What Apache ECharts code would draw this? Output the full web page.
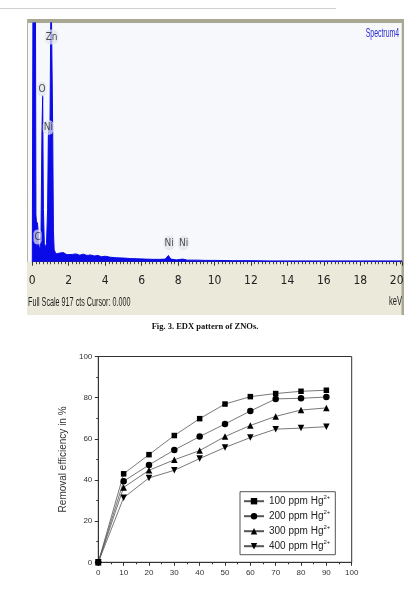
<!DOCTYPE html>
<html>
<head>
<meta charset="utf-8">
<script src="https://cdn.jsdelivr.net/npm/echarts@6/dist/echarts.min.js"></script>
<style>
html,body{margin:0;padding:0;background:#fff;}
#c{width:418px;height:590px;}
</style>
</head>
<body>
<div id="c"></div>
<script>
// ---- EDX spectrum (top figure) ----
const edxKeV = [0, 0.03, 0.05, 0.1, 0.17, 0.2, 0.24, 0.28, 0.32, 0.36, 0.42, 0.48, 0.53, 0.57, 0.61, 0.66, 0.72, 0.78, 0.84, 0.88, 0.92, 0.95, 0.99, 1.03, 1.08, 1.12, 1.16, 1.2, 1.3, 1.4, 1.5, 1.6, 1.7, 1.8, 1.9, 2.0, 2.2, 2.4, 2.6, 2.8, 3.0, 3.2, 3.4, 3.6, 3.8, 4.0, 4.3, 4.6, 5.0, 5.4, 5.8, 6.2, 6.6, 7.0, 7.3, 7.47, 7.6, 7.9, 8.26, 8.5, 9, 9.5, 10, 11, 12, 13, 14, 15, 16, 17, 18, 19, 20, 20.3];
const edxCounts = [0, 0, 1400, 1400, 1100, 180, 140, 150, 120, 60, 45, 120, 500, 640, 200, 70, 55, 70, 200, 480, 520, 350, 700, 1100, 1100, 500, 120, 45, 30, 26, 33, 28, 35, 30, 27, 32, 28, 30, 25, 29, 24, 26, 22, 24, 19, 21, 17, 15, 14, 12, 11, 10, 9, 9, 10, 24, 10, 7, 10, 6, 6, 5, 5, 4, 4, 3, 3, 3, 3, 3, 3, 3, 3, 3];
const edxPeakNames = ['Zn', 'O', 'Ni', 'C', 'Ni', 'Ni'];
const edxPeakKeV = [1.06, 0.53, 0.88, 0.29, 7.51, 8.3];
const edxPeakLabelCts = [863, 663, 516, 95, 72, 72];
const edxTicks = [0, 2, 4, 6, 8, 10, 12, 14, 16, 18, 20];
const edxFullScale = 917;

// ---- Removal efficiency (bottom figure) ----
const times = [0, 10, 20, 30, 40, 50, 60, 70, 80, 90];
const seriesNames = ['100 ppm Hg', '200 ppm Hg', '300 ppm Hg', '400 ppm Hg'];
const eff100 = [0, 43.0, 52.3, 61.6, 69.8, 76.9, 80.5, 82.0, 83.1, 83.6];
const eff200 = [0, 39.4, 47.3, 54.6, 61.1, 67.2, 73.5, 79.4, 79.7, 80.3];
const eff300 = [0, 36.4, 44.7, 49.8, 54.3, 61.1, 66.5, 70.9, 74.0, 75.0];
const eff400 = [0, 31.4, 41.0, 44.7, 50.4, 55.8, 60.6, 64.7, 65.2, 65.9];
const xTicks = [0, 10, 20, 30, 40, 50, 60, 70, 80, 90, 100];
const yTicks = [0, 20, 40, 60, 80, 100];

const chart = echarts.init(document.getElementById('c'), null, {renderer: 'canvas'});
const narrow = "'Liberation Sans Narrow','DejaVu Sans Condensed','Liberation Sans',sans-serif";
const sans = "'Liberation Sans',Arial,sans-serif";
const symbols = ['rect', 'circle', 'triangle', 'path://M0,0 L10,0 L5,9 Z'];
const effData = [eff100, eff200, eff300, eff400];

const option = {
  animation: false,
  backgroundColor: '#ffffff',
  graphic: [
    {type: 'line', shape: {x1: 0, y1: 8.5, x2: 336, y2: 8.5}, style: {stroke: '#cfcfcf', lineWidth: 1}, z: 0},
    {type: 'rect', shape: {x: 27, y: 19, width: 377, height: 296}, style: {fill: '#ebe9d9'}, z: 0},
    {type: 'rect', shape: {x: 27, y: 19, width: 377, height: 4}, style: {fill: '#a9a895'}, z: 0},
    {type: 'rect', shape: {x: 401.5, y: 19, width: 2.5, height: 296}, style: {fill: '#a9a895'}, z: 0},
    {type: 'rect', shape: {x: 27, y: 19, width: 1, height: 243}, style: {fill: '#b5b4a4'}, z: 0},
    {type: 'rect', shape: {x: 28, y: 23, width: 373.5, height: 238.7}, style: {fill: '#f7f8fc'}, z: 0},
    {type: 'text', x: 365.7, y: 27.5, style: {text: 'Spectrum4', fill: '#2b2bd6', font: "12px " + sans}, scaleX: 0.575, z: 5},
    {type: 'text', x: 28, y: 297, style: {text: 'Full Scale ' + edxFullScale + ' cts Cursor: 0.000', fill: '#1e1e1e', font: "12px " + sans}, scaleX: 0.6, z: 5},
    {type: 'text', x: 389, y: 296, style: {text: 'keV', fill: '#1e1e1e', font: "12px " + sans}, scaleX: 0.63, z: 5},
    {type: 'text', x: 205, y: 322, style: {text: 'Fig. 3. EDX pattern of ZNOs.', fill: '#111', font: "bold 8.5px 'Liberation Serif','Times New Roman',serif", textAlign: 'center'}, z: 5}
  ],
  grid: [
    {left: 32.3, top: 23, width: 369.7, height: 238.7},
    {left: 98.3, top: 356.5, width: 253.4, height: 205.8, show: true, borderColor: '#333', borderWidth: 1, backgroundColor: 'transparent'}
  ],
  xAxis: [
    {
      type: 'value', gridIndex: 0, min: 0, max: 20.29, interval: 2,
      axisLine: {show: true, lineStyle: {color: '#333', width: 1}},
      axisTick: {show: true, length: 4, lineStyle: {color: '#333'}},
      minorTick: {show: true, splitNumber: 10, length: 2.5, lineStyle: {color: '#444'}},
      splitLine: {show: false},
      axisLabel: {
        margin: 13, fontSize: 12, color: '#222', fontFamily: narrow,
        formatter: v => (edxTicks.indexOf(Math.round(v * 1000) / 1000) >= 0 ? String(v) : '')
      }
    },
    {
      type: 'value', gridIndex: 1, min: 0, max: 100, interval: 10,
      axisLine: {show: true, lineStyle: {color: '#333', width: 1}},
      axisTick: {show: true, length: 3.5, lineStyle: {color: '#333'}},
      minorTick: {show: true, splitNumber: 2, length: 2, lineStyle: {color: '#333'}},
      splitLine: {show: false},
      axisLabel: {margin: 6, fontSize: 8, color: '#333', fontFamily: sans,
        formatter: v => (xTicks.indexOf(v) >= 0 ? String(v) : '')}
    }
  ],
  yAxis: [
    {type: 'value', gridIndex: 0, min: 0, max: edxFullScale, show: false},
    {
      type: 'value', gridIndex: 1, min: 0, max: 100, interval: 20,
      name: 'Removal efficiency in %', nameLocation: 'middle', nameGap: 22,
      nameTextStyle: {fontSize: 10, color: '#333', fontFamily: sans},
      axisLine: {show: true, lineStyle: {color: '#333', width: 1}},
      axisTick: {show: true, length: 3.5, lineStyle: {color: '#333'}},
      minorTick: {show: true, splitNumber: 2, length: 2, lineStyle: {color: '#333'}},
      splitLine: {show: false},
      axisLabel: {margin: 6, fontSize: 8, color: '#333', fontFamily: sans,
        formatter: v => (yTicks.indexOf(v) >= 0 ? String(v) : '')}
    }
  ],
  legend: {
    data: seriesNames,
    orient: 'vertical',
    left: 240, top: 491.7,
    padding: [3, 5, 2, 3],
    itemWidth: 20, itemHeight: 8, itemGap: 2,
    borderColor: '#555', borderWidth: 1, backgroundColor: '#fff',
    formatter: name => '{a|' + name + '}{s|2+}',
    textStyle: {
      color: '#222', fontFamily: sans,
      rich: {
        a: {fontSize: 10, lineHeight: 12, color: '#222', fontFamily: sans},
        s: {fontSize: 6, lineHeight: 6, color: '#222', fontFamily: sans, padding: [0, 0, 7, 0]}
      }
    }
  },
  series: [
    {
      type: 'line', name: 'EDX', xAxisIndex: 0, yAxisIndex: 0,
      data: edxKeV.map((k, i) => [k, edxCounts[i]]),
      showSymbol: false, symbol: 'none', clip: true,
      lineStyle: {color: '#0a0ae6', width: 1},
      areaStyle: {color: '#0a0ae6', opacity: 1},
      z: 3
    },
    {
      type: 'scatter', name: 'EDX labels', xAxisIndex: 0, yAxisIndex: 0,
      data: edxPeakNames.map((n, i) => ({name: n, value: [edxPeakKeV[i], edxPeakLabelCts[i]]})),
      symbolSize: 0,
      label: {
        show: true, position: 'inside', formatter: '{b}', color: '#222',
        fontSize: 10, fontFamily: narrow,
        backgroundColor: 'rgba(226,228,238,0.9)', borderRadius: 6, padding: [3, 1, 2, 1]
      },
      z: 6
    }
  ].concat(seriesNames.map((nm, si) => ({
    type: 'line', name: nm, xAxisIndex: 1, yAxisIndex: 1,
    data: times.map((t, i) => [t, effData[si][i]]),
    symbol: symbols[si], symbolSize: si === 0 ? 5.5 : 6.5,
    lineStyle: {color: '#555', width: 0.8},
    itemStyle: {color: '#000'},
    z: 4
  })))
};
chart.setOption(option);
</script>
</body>
</html>
